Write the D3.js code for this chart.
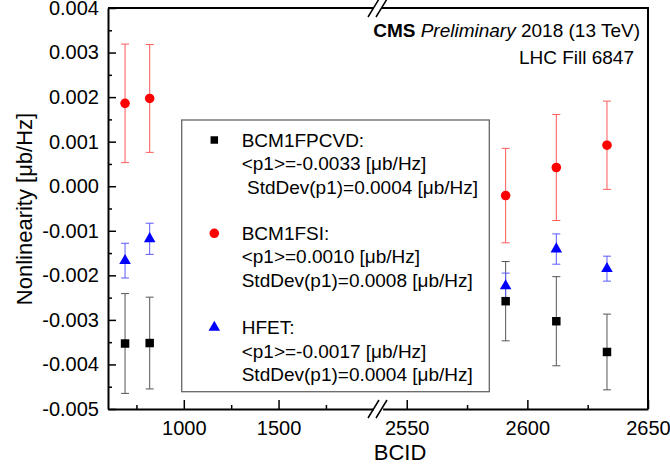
<!DOCTYPE html>
<html>
<head>
<meta charset="utf-8">
<script src="https://cdn.jsdelivr.net/npm/d3@7"></script>
<style>
  body { margin: 0; background: #fff; }
  svg { font-family: Arial, "Liberation Sans", sans-serif; }
</style>
</head>
<body>
<svg id="chart" width="670" height="467"></svg>
<script>
// data
var bcid = [690, 820, 2591, 2612, 2633];
var pcvd = [-0.00353, -0.00352, -0.00258, -0.00303, -0.00372];
var pcvdErr = [0.00112, 0.00103, 0.00089, 0.00100, 0.00085];
var fsi = [0.00186, 0.00197, -0.00021, 0.00042, 0.00092];
var fsiErr = [0.00133, 0.00121, 0.00106, 0.00119, 0.00099];
var hfet = [-0.00167, -0.00118, -0.00224, -0.00141, -0.00185];
var hfetErr = [0.00039, 0.00035, 0.00029, 0.00034, 0.00028];

var yTicks = [-0.005, -0.004, -0.003, -0.002, -0.001, 0, 0.001, 0.002, 0.003, 0.004];
var yMinor = [-0.0045, -0.0035, -0.0025, -0.0015, -0.0005, 0.0005, 0.0015, 0.0025, 0.0035];
var xTicksL = [1000, 1500];
var xMinorL = [750, 1250, 1750];
var xTicksR = [2550, 2600, 2650];
var xMinorR = [2575, 2625];

var legendLines = [
  ["BCM1FPCVD:", "<p1>=-0.0033 [\u03bcb/Hz]", " StdDev(p1)=0.0004 [\u03bcb/Hz]"],
  ["BCM1FSI:", "<p1>=0.0010 [\u03bcb/Hz]", "StdDev(p1)=0.0008 [\u03bcb/Hz]"],
  ["HFET:", "<p1>=-0.0017 [\u03bcb/Hz]", "StdDev(p1)=0.0004 [\u03bcb/Hz]"]
];

var mLeft = 108, mRight = 648, mTop = 8, mBottom = 409;
var svg = d3.select("#chart");

// broken x axis: two scales
var xl = d3.scaleLinear().domain([600, 2000]).range([mLeft, 373.3]);
var xr = d3.scaleLinear().domain([2540, 2650]).range([382.6, mRight]);
function xs(v) { return v <= 2000 ? xl(v) : xr(v); }
var y = d3.scaleLinear().domain([-0.005, 0.004]).range([mBottom, mTop]);

var series = [
  {name: "pcvd", vals: pcvd, err: pcvdErr, color: "#000", bar: "#555", sym: d3.symbolSquare, size: 72},
  {name: "fsi", vals: fsi, err: fsiErr, color: "#ff0000", bar: "#ff5a5a", sym: d3.symbolCircle, size: 72},
  {name: "hfet", vals: hfet, err: hfetErr, color: "#0000ff", bar: "#5a5aff", sym: d3.symbolTriangle, size: 58}
];

// frame top and right
svg.append("path")
  .attr("d", "M" + mLeft + "," + mTop + "H373.5M381.5," + mTop + "H" + mRight + "V" + mBottom)
  .attr("fill", "none").attr("stroke", "#000").attr("stroke-width", 2);

// error bars
series.forEach(function(s) {
  var g = svg.append("g").attr("stroke", s.bar).attr("stroke-width", 1).attr("fill", "none");
  bcid.forEach(function(b, i) {
    var cx = xs(b), y1 = y(s.vals[i] + s.err[i]), y2 = y(s.vals[i] - s.err[i]);
    g.append("path")
      .attr("d", "M" + cx + "," + y1 + "V" + y2 +
                 "M" + (cx - 4) + "," + y1 + "H" + (cx + 4) +
                 "M" + (cx - 4) + "," + y2 + "H" + (cx + 4));
  });
});

// markers
series.forEach(function(s) {
  svg.append("g").selectAll("path")
    .data(bcid)
    .enter().append("path")
    .attr("d", d3.symbol().type(s.sym).size(s.size))
    .attr("transform", function(d, i) { return "translate(" + xs(d) + "," + y(s.vals[i]) + ")"; })
    .attr("fill", s.color);
});

function styleAxis(g) {
  g.select(".domain").attr("stroke-width", 2);
  g.selectAll(".tick line").attr("stroke-width", 1.5);
  g.selectAll("text").attr("font-size", 20).attr("fill", "#000")
    .style("font-family", "Arial, 'Liberation Sans', sans-serif");
}

var fmt = function(d) { return d.toFixed(3); };

// y axis
svg.append("g").attr("transform", "translate(" + mLeft + ",0)")
  .call(d3.axisLeft(y).tickValues(yTicks).tickFormat(fmt).tickSize(-8).tickSizeOuter(0).tickPadding(9))
  .call(styleAxis);
svg.append("g").attr("transform", "translate(" + mLeft + ",0)")
  .call(d3.axisLeft(y).tickValues(yMinor).tickFormat("").tickSize(-4).tickSizeOuter(0))
  .call(function(g) { g.select(".domain").remove(); g.selectAll("line").attr("stroke-width", 1.5); });

// x axis, both pieces
svg.append("g").attr("transform", "translate(0," + mBottom + ")")
  .call(d3.axisBottom(xl).tickValues(xTicksL).tickFormat(d3.format("d")).tickSize(-9).tickSizeOuter(0).tickPadding(12))
  .call(styleAxis);
svg.append("g").attr("transform", "translate(0," + mBottom + ")")
  .call(d3.axisBottom(xl).tickValues(xMinorL).tickFormat("").tickSize(-4).tickSizeOuter(0))
  .call(function(g) { g.select(".domain").remove(); g.selectAll("line").attr("stroke-width", 1.5); });
svg.append("g").attr("transform", "translate(0," + mBottom + ")")
  .call(d3.axisBottom(xr).tickValues(xTicksR).tickFormat(d3.format("d")).tickSize(-9).tickSizeOuter(0).tickPadding(12))
  .call(styleAxis);
svg.append("g").attr("transform", "translate(0," + mBottom + ")")
  .call(d3.axisBottom(xr).tickValues(xMinorR).tickFormat("").tickSize(-4).tickSizeOuter(0))
  .call(function(g) { g.select(".domain").remove(); g.selectAll("line").attr("stroke-width", 1.5); });

// break marks
[mTop, mBottom].forEach(function(yy) {
  svg.append("path")
    .attr("d", "M368," + (yy + 9) + "L379," + (yy - 9) + "M376," + (yy + 9) + "L387," + (yy - 9))
    .attr("stroke", "#000").attr("stroke-width", 1.5).attr("fill", "none");
});

// axis titles
svg.append("text").attr("x", 400).attr("y", 459.5)
  .attr("text-anchor", "middle").attr("font-size", 22).text("BCID");
svg.append("text").attr("transform", "translate(32,209) rotate(-90)")
  .attr("text-anchor", "middle").attr("font-size", 22).text("Nonlinearity [\u03bcb/Hz]");

// CMS label
var cms = svg.append("text").attr("x", 640).attr("y", 37).attr("text-anchor", "end").attr("font-size", 19);
cms.append("tspan").attr("font-weight", "bold").text("CMS");
cms.append("tspan").text(" ");
cms.append("tspan").attr("font-style", "italic").text("Preliminary");
cms.append("tspan").text(" 2018 (13 TeV)");
svg.append("text").attr("x", 634).attr("y", 64).attr("text-anchor", "end").attr("font-size", 19).text("LHC Fill 6847");

// legend
svg.append("rect").attr("x", 181.7).attr("y", 120).attr("width", 307.6).attr("height", 271.7)
  .attr("fill", "none").attr("stroke", "#666").attr("stroke-width", 1.3);
var legTop = [140, 233.3, 327.5];
series.forEach(function(s, k) {
  svg.append("path")
    .attr("d", d3.symbol().type(s.sym).size(k === 0 ? 56 : s.size))
    .attr("transform", "translate(214.3," + legTop[k] + ")")
    .attr("fill", s.color);
  legendLines[k].forEach(function(t, j) {
    svg.append("text").attr("x", 241.7).attr("y", legTop[k] + j * 23.5)
      .attr("dy", "0.35em").attr("font-size", 19)
      .style("white-space", "pre").text(t);
  });
});
</script>
</body>
</html>
